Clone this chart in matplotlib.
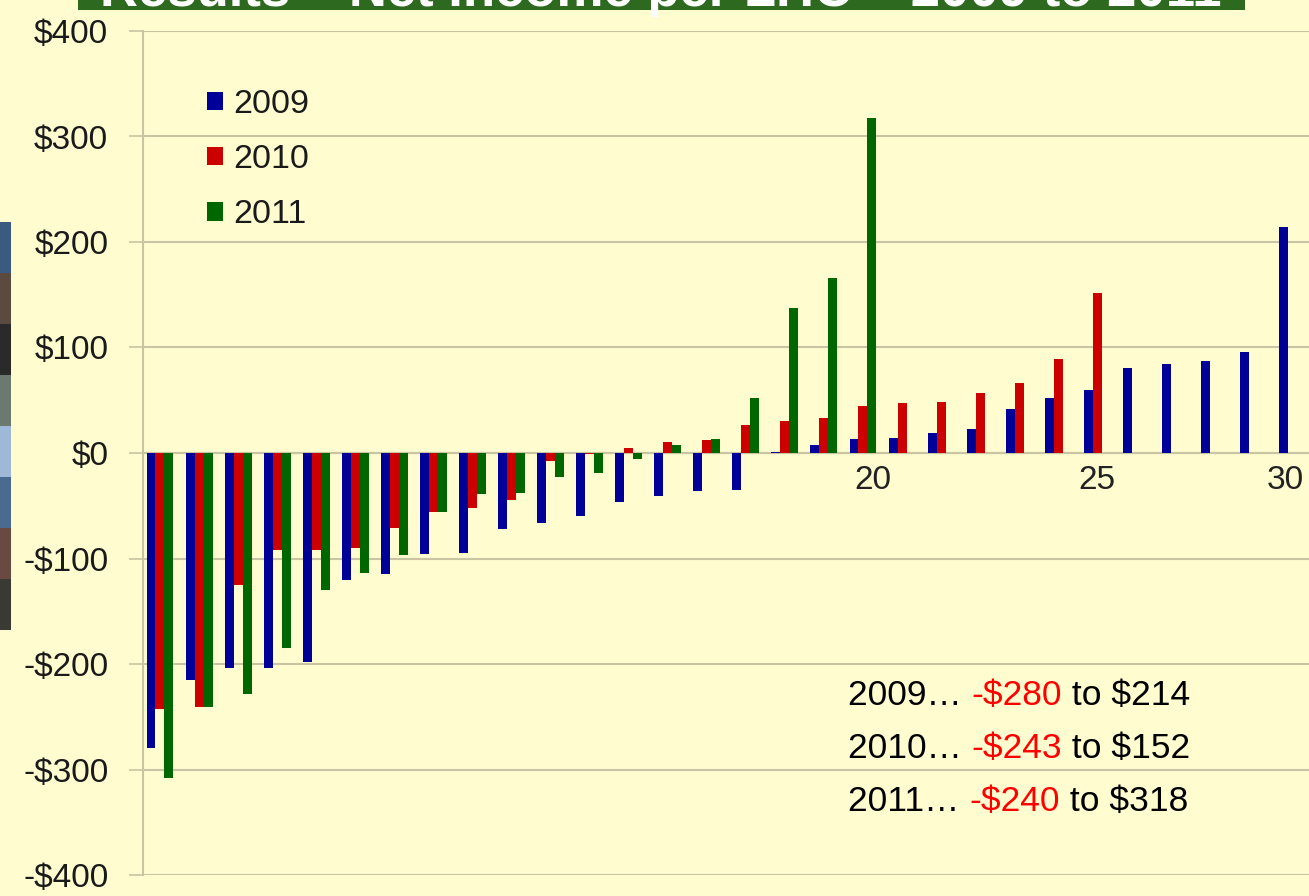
import numpy as np
import matplotlib.pyplot as plt
from matplotlib.patches import Patch, Rectangle

plt.rcParams['font.family'] = ['Liberation Sans', 'DejaVu Sans']

# net income per LHC, sorted groups 1..30
groups = np.arange(1, 31)
y2009 = [-280, -215, -204, -204, -198, -120, -115, -96, -95, -72,
         -66, -60, -46, -41, -36, -35, 1, 8, 13, 14,
         19, 23, 42, 52, 60, 81, 84, 87, 96, 214]
y2010 = [-243, -241, -125, -92, -92, -90, -71, -56, -52, -45,
         -8, -1, 5, 10, 12, 27, 30, 33, 45, 47,
         48, 57, 66, 89, 152, np.nan, np.nan, np.nan, np.nan, np.nan]
y2011 = [-308, -241, -228, -185, -130, -114, -97, -56, -39, -38,
         -23, -19, -6, 8, 13, 52, 137, 166, 318, np.nan,
         np.nan, np.nan, np.nan, np.nan, np.nan, np.nan, np.nan, np.nan, np.nan, np.nan]
years = ["2009", "2010", "2011"]
colors = ["#000099", "#CC0000", "#006600"]
yticks = [-400, -300, -200, -100, 0, 100, 200, 300, 400]
xlabels = ["20", "25", "30"]
xlabel_pos = [19.25, 25.0, 29.8]
notes = [("2009… ", "-$280", " to $214"),
         ("2010… ", "-$243", " to $152"),
         ("2011… ", "-$240", " to $318")]

bg = "#FFFCD0"
grid_c = "#C9C4A2"
txt_c = "#1A1A1A"

fig = plt.figure(figsize=(13.09, 8.96), dpi=100)
fig.patch.set_facecolor(bg)
ax = fig.add_axes([143/1309, 21/896, 1 - 143/1309, 844/896])
ax.set_facecolor(bg)

w = 0.23
for k, vals in enumerate([y2009, y2010, y2011]):
    ax.bar(groups + (k - 1) * w, vals, width=w, color=colors[k], label=years[k], zorder=3)

ax.set_ylim(-400, 400)
ax.set_xlim(0.565, 30.42)
ax.set_yticks(yticks)
ax.set_yticklabels([("-$%d" % -v) if v < 0 else ("$%d" % v) for v in yticks],
                   fontsize=24, color=txt_c)
ax.tick_params(axis='y', length=10, color=grid_c, width=1.2, pad=15)
ax.set_xticks([])
ax.grid(axis='y', color=grid_c, linewidth=1.5, zorder=0)
for s in ["top", "right", "bottom"]:
    ax.spines[s].set_visible(False)
ax.spines["left"].set_color(grid_c)
ax.spines["left"].set_linewidth(1.5)
ax.axhline(0, color=grid_c, linewidth=1.5, zorder=2)

for lab, xp in zip(xlabels, xlabel_pos):
    ax.text(xp, -11, lab, ha='center', va='top', fontsize=24, color="#222222", zorder=4)

handles = [Patch(facecolor=c, label=y) for c, y in zip(colors, years)]
ax.legend(handles=handles, loc='upper left', bbox_to_anchor=(207/1309, 1 - 89/896),
          bbox_transform=fig.transFigure, frameon=False, fontsize=24.5,
          handlelength=0.47, handleheight=0.47, handletextpad=0.3, labelspacing=0.71,
          borderpad=0, borderaxespad=0, labelcolor=txt_c)

# summary text with red minimum values
fig.canvas.draw()
r = fig.canvas.get_renderer()
for i, parts in enumerate(notes):
    x = 848
    yp = 896 - (695 + i * 53)
    for j, part in enumerate(parts):
        t = fig.text(x / 1309, yp / 896, part, fontsize=25.5, va='center', ha='left',
                     color="#FF0000" if j == 1 else "black")
        x += t.get_window_extent(r).width

# green title banner, cut off at the top
fig.patches.append(Rectangle((78/1309, 1 - 10/896), (1245 - 78)/1309, 20/896,
                             transform=fig.transFigure, facecolor="#2D6A1F",
                             edgecolor="none", zorder=5))
fig.text(0.505, 1 - 6/896, "Results – Net Income per LHC – 2009 to 2011", ha='center',
         va='baseline', fontsize=38, fontweight='bold', color="white", zorder=6)

# fragment of a photo on the left edge
strip = ["#3A5A80", "#5A4A40", "#2A2A2A", "#6A7A70", "#A0B8D8", "#4A6A90", "#6A4A40", "#3A3A35"]
for k, c in enumerate(strip):
    fig.patches.append(Rectangle((0, 1 - (222 + k * 51 + 51)/896), 11/1309, 51/896,
                                 transform=fig.transFigure, facecolor=c, edgecolor="none"))

fig.savefig("out.png", dpi=100, facecolor=bg)
